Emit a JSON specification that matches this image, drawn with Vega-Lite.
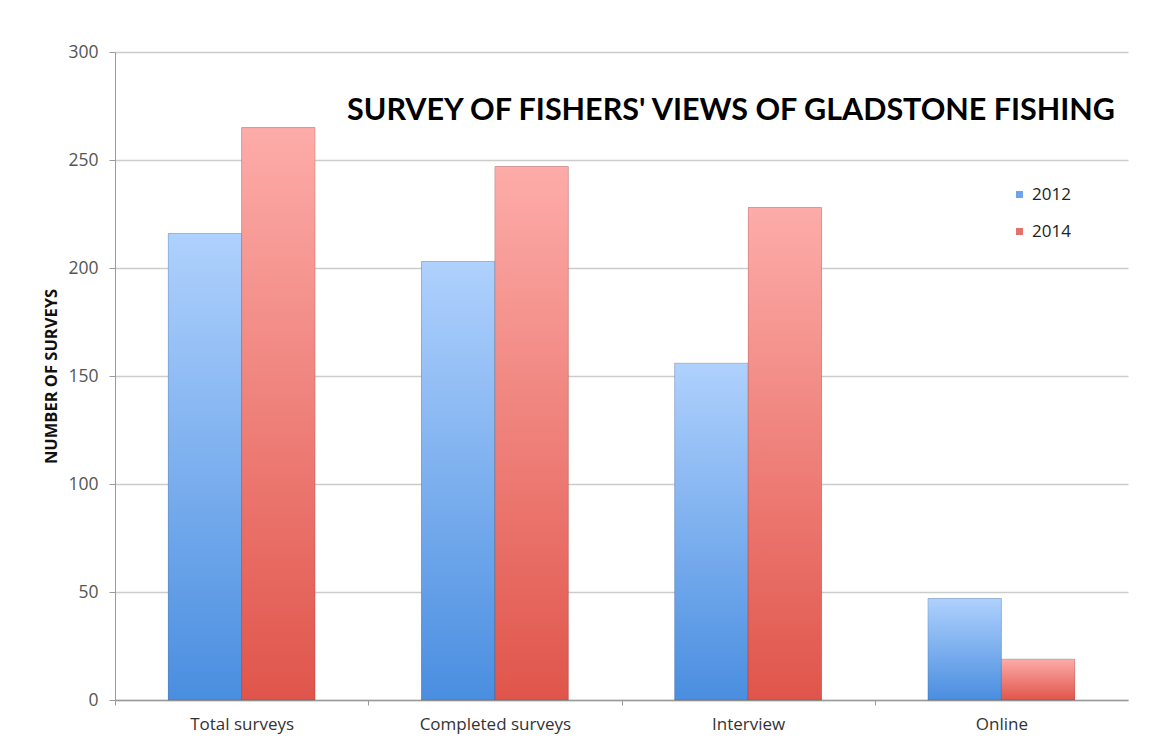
{
  "$schema": "https://vega.github.io/schema/vega-lite/v6.json",
  "width": 1013,
  "height": 648,
  "autosize": {"type": "none"},
  "padding": {"left": 115, "top": 52, "right": 32, "bottom": 40},
  "background": "white",
  "title": {
    "text": "SURVEY OF FISHERS' VIEWS OF GLADSTONE FISHING",
    "orient": "top",
    "anchor": "end",
    "frame": "group",
    "offset": -107,
    "baseline": "alphabetic",
    "dx": -13,
    "font": "Lato",
    "fontSize": 30.5,
    "fontWeight": "bold",
    "color": "#000000"
  },
  "data": {
    "values": [
      {"category": "Total surveys", "year": "2012", "surveys": 216},
      {"category": "Total surveys", "year": "2014", "surveys": 265},
      {"category": "Completed surveys", "year": "2012", "surveys": 203},
      {"category": "Completed surveys", "year": "2014", "surveys": 247},
      {"category": "Interview", "year": "2012", "surveys": 156},
      {"category": "Interview", "year": "2014", "surveys": 228},
      {"category": "Online", "year": "2012", "surveys": 47},
      {"category": "Online", "year": "2014", "surveys": 19}
    ]
  },
  "encoding": {
    "x": {
      "field": "category",
      "type": "nominal",
      "sort": ["Total surveys", "Completed surveys", "Interview", "Online"],
      "scale": {"paddingInner": 0.42, "paddingOuter": 0.21},
      "axis": {
        "title": null,
        "labelAngle": 0,
        "labelFont": "Open Sans",
        "labelFontSize": 17,
        "labelColor": "#333333",
        "labelPadding": 11,
        "tickOffset": -126.6,
        "labelOffset": 126.6,
        "tickSize": 5,
        "tickColor": "#9a9a9a",
        "domainColor": "#9a9a9a",
        "domainWidth": 1.5,
        "grid": false
      }
    },
    "xOffset": {
      "field": "year",
      "type": "nominal",
      "scale": {"paddingInner": 0, "paddingOuter": 0}
    },
    "y": {
      "field": "surveys",
      "type": "quantitative",
      "scale": {"domain": [0, 300]},
      "axis": {
        "values": [0, 50, 100, 150, 200, 250, 300],
        "title": "NUMBER OF SURVEYS",
        "titleFont": "Open Sans",
        "titleFontWeight": "bold",
        "titleFontSize": 16.5,
        "titleColor": "#111111",
        "titlePadding": 8,
        "labelFont": "Open Sans",
        "labelFontSize": 17.5,
        "labelColor": "#555555",
        "labelPadding": 11,
        "tickSize": 6,
        "tickColor": "#9a9a9a",
        "domainColor": "#9a9a9a",
        "gridColor": "#cccccc",
        "gridWidth": 1.6
      }
    }
  },
  "layer": [
    {
      "mark": {"type": "bar"},
      "encoding": {
        "color": {
          "field": "year",
          "type": "nominal",
          "scale": {"domain": ["2012", "2014"], "range": ["#6fa3ea", "#e5716b"]},
          "legend": {
            "title": null,
            "orient": "none",
            "legendX": 896,
            "legendY": 134,
            "symbolType": "square",
            "symbolSize": 49,
            "symbolStrokeWidth": 0,
            "labelFont": "Open Sans",
            "labelFontSize": 17,
            "labelColor": "#222222",
            "labelOffset": 4,
            "rowPadding": 19,
            "padding": 0
          }
        }
      }
    },
    {
      "mark": {"type": "bar", "stroke": "rgba(0,0,0,0.14)", "strokeWidth": 1},
      "encoding": {
        "color": {
          "condition": {
            "test": "datum.year === '2012'",
            "value": {
              "gradient": "linear",
              "x1": 0, "y1": 0, "x2": 0, "y2": 1,
              "stops": [
                {"offset": 0, "color": "#afd1fd"},
                {"offset": 1, "color": "#4a8ee0"}
              ]
            }
          },
          "value": {
            "gradient": "linear",
            "x1": 0, "y1": 0, "x2": 0, "y2": 1,
            "stops": [
              {"offset": 0, "color": "#fdaca9"},
              {"offset": 1, "color": "#e0554b"}
            ]
          }
        }
      }
    }
  ],
  "config": {
    "view": {"stroke": null}
  }
}
